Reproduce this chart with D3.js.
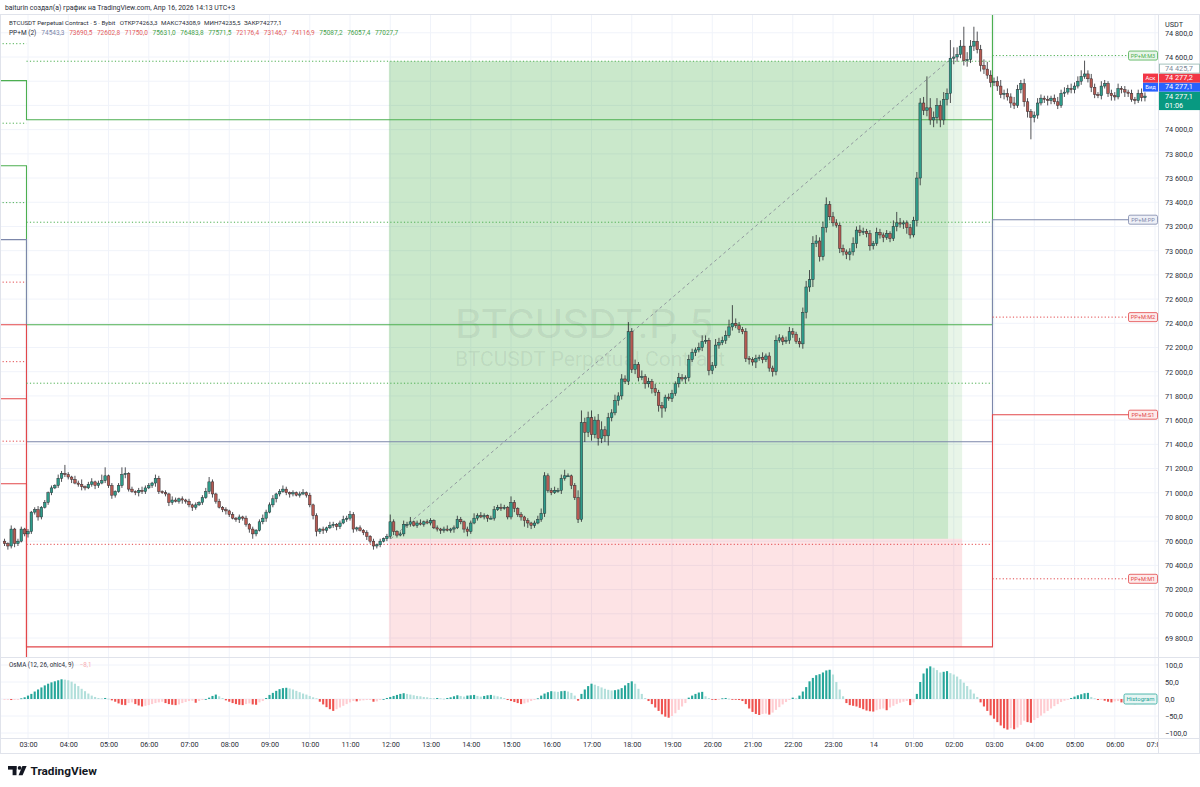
<!DOCTYPE html>
<html><head><meta charset="utf-8">
<script src="https://cdn.jsdelivr.net/npm/d3@7/dist/d3.min.js"></script>
<style>body{margin:0;background:#fff;}svg{display:block;font-family:Roboto,"Noto Sans",sans-serif;}</style>
</head><body><svg id="c" width="1200" height="787"></svg>
<script>
// ---------- DATA ----------
// 5-minute candles, bar 0 = 02:25 (13th), bar 7 = 03:00, 12 bars per hour
const firstOpen = 70600;
const closes = [
70580,70560,70700,70580,70600,70700,70660,
70680,70840,70860,70800,70880,70920,71000,71040,71060,71120,71160,71150,
71130,71110,71080,71070,71050,71040,71070,71090,71060,71080,71100,71140,
71060,70980,71010,71060,71150,71160,71030,71010,71000,71020,71010,71040,
71060,71080,71120,71010,71000,70990,70920,70940,70930,70950,70940,70930,
70900,70880,70900,70920,70960,71010,71090,70990,70930,70880,70860,70850,
70820,70790,70780,70800,70790,70740,70700,70660,70690,70760,70790,70840,
70900,70950,70990,71010,71030,71000,70990,71000,70980,70990,71000,70980,
70900,70810,70680,70700,70690,70710,70730,70740,70720,70750,70780,70790,
70820,70700,70710,70690,70670,70640,70600,70560,70570,70600,70620,70640,
70760,70680,70650,70660,70740,70740,70760,70730,70750,70740,70760,70750,
70770,70710,70700,70690,70700,70690,70700,70710,70780,70760,70700,70680,
70750,70790,70810,70800,70810,70790,70790,70860,70880,70870,70880,70800,
70920,70870,70820,70800,70770,70750,70730,70750,70780,70830,71140,71020,
71000,71020,71020,71120,71140,71140,71060,70960,70780,71580,71500,71620,
71480,71600,71450,71520,71470,71620,71660,71760,71800,71940,71920,72330,
72020,72060,71950,71960,71900,71920,71860,71830,71720,71700,71790,71780,
71820,71900,71950,71940,71950,72100,72160,72180,72200,72250,72260,72010,
72050,72220,72240,72260,72300,72370,72400,72380,72350,72330,72110,72100,
72080,72110,72120,72100,72130,72030,72000,72260,72280,72250,72260,72330,
72310,72250,72230,72490,72700,72760,73060,73080,72950,73190,73380,73280,
73230,73210,73020,72990,72970,72990,73060,73170,73150,73160,73140,73040,
73060,73150,73130,73110,73140,73100,73200,73230,73220,73230,73190,73130,
73250,73600,74220,74160,74180,74080,74100,74200,74080,74250,74300,74590,
74600,74620,74690,74570,74580,74690,74730,74660,74530,74500,74450,74390,
74400,74360,74290,74300,74270,74220,74200,74330,74380,74230,74150,74100,
74120,74220,74260,74250,74240,74260,74230,74200,74300,74310,74340,74330,
74360,74400,74440,74460,74420,74350,74290,74280,74360,74380,74300,74280,
74270,74340,74330,74310,74300,74250,74240,74300,74263.3,74277.1];
// wick lengths beyond the body, in units of 10 USDT
const wickUp = [
2,1,3,1,2,2,1,
2,1,2,3,1,2,1,2,1,3,2,7,
2,1,3,2,4,1,2,3,1,2,5,7,
1,2,1,2,6,5,1,2,1,2,3,2,
2,1,3,2,1,2,1,3,2,1,2,1,
2,1,2,1,2,3,4,2,1,2,1,2,
1,2,1,2,1,2,1,2,1,2,3,2,
2,3,1,2,3,2,1,2,1,2,3,1,
2,1,2,1,2,1,3,2,1,2,3,2,
3,2,1,2,1,2,1,2,1,2,1,2,
6,2,1,2,3,2,4,1,2,3,1,2,
2,1,2,1,2,3,1,2,3,2,1,2,
2,4,2,3,2,1,2,3,2,3,2,1,
5,2,1,2,1,2,1,2,3,4,3,2,
2,3,2,3,5,2,1,2,6,10,4,5,
6,3,5,7,3,4,3,5,3,4,3,8,
3,4,2,5,2,3,2,4,2,3,2,3,
3,2,4,3,2,4,3,2,4,5,4,2,
3,5,4,3,4,6,15,4,3,2,3,2,
2,3,2,4,2,3,2,4,3,2,3,4,
3,2,3,4,5,8,6,5,3,5,6,3,
4,3,2,3,2,3,5,3,4,3,2,3,
2,4,3,2,3,2,5,9,4,2,2,3,
3,5,4,5,26,8,5,6,4,6,4,15,
8,6,5,16,6,5,12,8,4,5,6,4,
3,4,5,3,4,3,5,4,3,4,3,2,
3,4,3,2,3,2,3,4,3,4,3,4,
3,4,5,11,3,4,3,2,4,3,2,3,
3,4,2,3,2,3,2,3,4,3];
const wickDn = [
2,3,2,3,2,1,2,
3,2,2,3,2,1,2,2,1,2,3,2,
2,3,1,2,3,2,1,2,3,2,1,2,
2,3,2,1,2,3,2,1,2,3,2,2,
1,2,3,2,1,2,3,2,1,2,3,2,
2,3,2,1,2,1,2,3,2,1,2,3,
2,1,2,3,2,2,3,4,2,1,2,3,
1,2,3,2,1,2,3,2,1,2,1,2,
2,3,4,2,3,2,1,2,3,2,1,2,
2,3,2,1,2,3,2,3,2,2,1,2,
2,3,2,1,2,3,2,1,2,1,2,1,
2,1,2,3,2,1,2,3,1,2,3,4,
2,1,2,1,2,3,1,2,1,2,1,2,
2,3,2,3,5,4,3,2,1,2,3,2,
2,1,2,3,2,1,3,2,3,2,8,4,
5,3,6,4,5,8,3,2,4,3,2,3,
3,4,3,2,4,3,4,3,5,8,3,2,
3,2,3,2,4,3,2,3,2,3,2,4,
3,2,3,2,3,2,3,2,3,2,3,4,
3,5,2,3,2,3,4,3,2,3,2,3,
3,2,3,4,5,4,6,3,4,3,4,3,
3,2,4,3,4,5,3,4,3,2,3,4,
3,2,3,4,2,3,2,4,3,4,5,3,
2,5,6,4,5,4,6,5,6,4,5,8,
5,4,3,4,5,3,4,3,5,4,3,4,
3,4,3,4,3,4,3,2,3,4,5,18,
4,3,2,3,4,3,2,3,2,3,2,3,
3,2,3,2,3,4,3,2,3,2,3,4,
3,2,3,4,3,2,3,2,3,3];
// OsMA histogram (12, 26, ohlc4, 9)
const osma = [
-2,-2,-3,-2,-1,2,5,
10,15,22,28,34,40,45,49,52,55,58,57,
55,51,45,38,30,23,16,10,6,3,2,3,
1,-4,-8,-13,-17,-18,-12,-10,-15,-19,-22,-20,
-18,-15,-12,-10,-8,-12,-15,-17,-18,-16,-12,-9,
-6,-5,-11,-6,-3,0,4,9,13,8,3,-4,
-8,-12,-15,-17,-18,-15,-13,-16,-17,-10,-6,3,
12,18,24,29,32,33,31,28,24,20,16,13,
9,5,2,-8,-16,-24,-30,-35,-30,-25,-20,-15,
-10,-6,-7,-5,-4,-3,-3,-8,-7,-3,0,3,
6,9,12,15,17,15,13,11,9,8,6,5,
3,2,3,2,1,3,5,8,11,9,7,10,
11,12,9,7,9,11,12,10,8,6,3,-3,
-6,-9,-12,-15,-13,-10,-6,-3,2,10,16,20,
23,22,21,23,24,22,18,10,-5,15,28,38,
45,42,38,34,30,27,25,26,28,32,40,47,
52,45,30,15,3,-6,-15,-25,-35,-45,-52,-55,
-50,-42,-32,-22,-12,4,10,15,19,21,8,3,
-1,-3,-1,2,3,1,-1,-2,-3,-6,-15,-28,
-38,-44,-47,-44,-43,-46,-40,-32,-24,-16,-9,-3,
4,2,10,22,35,52,62,70,73,78,84,86,
72,50,28,8,-12,-18,-20,-22,-26,-30,-34,-36,
-37,-33,-30,-28,-33,-25,-20,-15,-11,-8,-6,-18,
-10,15,50,75,90,96,92,85,78,80,82,76,
72,66,58,48,38,28,16,6,-10,-22,-35,-48,
-58,-68,-78,-86,-90,-86,-89,-84,-76,-64,-68,-70,
-62,-56,-49,-42,-35,-28,-21,-15,-9,-5,-2,3,
7,11,14,17,18,6,2,-3,-2,-5,-8,-10,
-7,-6,-10,-12,-11,-13,-15,-12,-10,-8.1];

const timeLabels = ["03:00","04:00","05:00","06:00","07:00","08:00","09:00","10:00","11:00","12:00","13:00","14:00","15:00","16:00","17:00","18:00","19:00","20:00","21:00","22:00","23:00","14","01:00","02:00","03:00","04:00","05:00","06:00","07:00"];
const priceTicks = [69800,70000,70200,70400,70600,70800,71000,71200,71400,71600,71800,72000,72200,72400,72600,72800,73000,73200,73400,73600,73800,74000,74200,74400,74600,74800];
const osmaTicks = [100,50,0,-50,-100];

// Pivot Points + midpoints, three daily periods: [12th, 13th, 14th]
const periodBounds = [-1.6, 6.55, 294.55, 340.6]; // bar-index boundaries
const pivR3 = [75016, 75049, 78900];
const pivR2 = [74405, 74082, 77579];
const pivR1 = [73702, 72388, 75968];
const pivPP = [73091, 71421, 73256];
const pivS1 = [72388, 69727, 71645];
const pivS2 = [71777, 68760, 68933];
const pivS3 = [71074, 66100, 66320];
const pivM5 = [74710, 74565, 78240];
const pivM4 = [74053, 73235, 76774];
const pivM3 = [73397, 71905, 74612];
const pivM2 = [72740, 70574, 72451];
const pivM1 = [72083, 69244, 70289];
const pivM0 = [71426, 67430, 67627];

// Long position tool
const posStartBar = 114.6, posHitBar = 281.3, posEndBar = 285.5;
const posEntry = 70620, posTarget = 74565, posStop = 69727;

const askPrice = 74277.2, bidPrice = 74277.1, markerPrice = 74425.7, countdown = "01:06";
const legendPP = [["74543,3","pp"],["73690,5","r"],["72602,8","r"],["71750,0","r"],["75631,0","g"],["76483,8","g"],["77571,5","g"],["72176,4","r"],["73146,7","r"],["74116,9","r"],["75087,2","g"],["76057,4","g"],["77027,7","g"]];

// ---------- LAYOUT ----------
const paneR = 1158, mainT = 14, mainB = 657, oscB = 738, axisB = 753;
const C = {grid:"#f0f3fa", border:"#e0e3eb", text:"#2a2e39", green:"#4caf50", pp:"#7c87aa", red:"#e2474a",
  up:"#2e9c8a", down:"#b65a52", outline:"#24262b", hUp:"#26a69a", hUpL:"#b2dfdb", hDn:"#ef5350", hDnL:"#ffcdd2"};
const FONT = 'Roboto,"Noto Sans",sans-serif';
const svg = d3.select("#c");
const x = d3.scaleLinear().domain([7, 343]).range([28, 1155]);
const y = d3.scaleLinear().domain([69800, 74600]).range([638, 57]);
const yo = d3.scaleLinear().domain([-100, 100]).range([733, 665]);
const fmt = d3.formatLocale({decimal:",", thousands:" ", grouping:[3], currency:["",""], minus:"\u2212"}).format(",.1f");

const defs = svg.append("defs");
defs.append("clipPath").attr("id","cm").append("rect").attr("x",0).attr("y",mainT).attr("width",paneR).attr("height",mainB-mainT);
defs.append("clipPath").attr("id","co").append("rect").attr("x",0).attr("y",mainB).attr("width",paneR).attr("height",oscB-mainB);
defs.append("clipPath").attr("id","ct").append("rect").attr("x",0).attr("y",oscB).attr("width",paneR).attr("height",axisB-oscB);

// grid
const hourBars = timeLabels.map((t,h)=>7+12*h);
const grid = svg.append("g");
grid.selectAll("line.v").data(hourBars).join("line").attr("x1",d=>x(d)).attr("x2",d=>x(d)).attr("y1",mainT).attr("y2",oscB).attr("stroke",C.grid);
grid.selectAll("line.h").data(priceTicks).join("line").attr("clip-path","url(#cm)").attr("x1",0).attr("x2",paneR).attr("y1",d=>y(d)).attr("y2",d=>y(d)).attr("stroke",C.grid);
grid.selectAll("line.o").data(osmaTicks).join("line").attr("x1",0).attr("x2",paneR).attr("y1",d=>yo(d)).attr("y2",d=>yo(d)).attr("stroke",C.grid);

// main pane content
const main = svg.append("g").attr("clip-path","url(#cm)");
// position tool
main.append("rect").attr("x",x(posStartBar)).attr("width",x(posEndBar)-x(posStartBar)).attr("y",y(posTarget)).attr("height",y(posEntry)-y(posTarget)).attr("fill","rgba(76,175,80,0.13)");
main.append("rect").attr("x",x(posStartBar)).attr("width",x(posHitBar)-x(posStartBar)).attr("y",y(posTarget)).attr("height",y(posEntry)-y(posTarget)).attr("fill","rgba(76,175,80,0.19)");
main.append("rect").attr("x",x(posStartBar)).attr("width",x(posEndBar)-x(posStartBar)).attr("y",y(posEntry)).attr("height",y(posStop)-y(posEntry)).attr("fill","rgba(242,54,69,0.14)");
// watermark
main.append("text").attr("x",455).attr("y",338).attr("font-size",41).attr("textLength",258).attr("lengthAdjust","spacingAndGlyphs").attr("fill","rgba(19,23,34,0.08)").attr("font-family",FONT).text("BTCUSDT.P, 5");
main.append("text").attr("x",455).attr("y",366).attr("font-size",21).attr("fill","rgba(19,23,34,0.08)").attr("font-family",FONT).text("BTCUSDT Perpetual Contract");

// pivot lines
function stepPath(vals){
  let p = ""; let prevY = null;
  for(let k=0;k<3;k++){
    const yy = y(vals[k]);
    const x0 = x(periodBounds[k]), x1 = x(periodBounds[k+1]);
    if(prevY===null) p += `M${x0},${yy}`; else p += `V${yy}`;
    p += `H${x1}`; prevY = yy;
  }
  return p;
}
function segPath(vals){
  let p = "";
  for(let k=0;k<3;k++){ const yy=y(vals[k]); p += `M${x(periodBounds[k])},${yy}H${x(periodBounds[k+1])}`; }
  return p;
}
const pg = main.append("g").attr("fill","none");
[[pivR3,C.green],[pivR2,C.green],[pivR1,C.green],[pivPP,C.pp],[pivS1,C.red],[pivS2,C.red],[pivS3,C.red]].forEach(([v,col])=>{
  pg.append("path").attr("d",stepPath(v)).attr("stroke",col).attr("stroke-width",1.1);
});
[[pivM5,C.green],[pivM4,C.green],[pivM3,C.green],[pivM2,C.red],[pivM1,C.red],[pivM0,C.red]].forEach(([v,col])=>{
  pg.append("path").attr("d",segPath(v)).attr("stroke",col).attr("stroke-width",1).attr("stroke-dasharray","1.2,2.2");
});
// dashed diagonal of the position tool
main.append("line").attr("x1",x(posStartBar)+2).attr("y1",y(posEntry)).attr("x2",x(posHitBar)).attr("y2",y(posTarget)).attr("stroke","#8a8f99").attr("stroke-width",0.9).attr("stroke-dasharray","3,3");

// candles
const bars = closes.map((c,i)=>{const o = i?closes[i-1]:firstOpen; return {i,o,c,h:Math.max(o,c)+wickUp[i]*10,l:Math.min(o,c)-wickDn[i]*10};});
const cg = main.append("g");
cg.selectAll("line").data(bars).join("line").attr("x1",d=>x(d.i)).attr("x2",d=>x(d.i)).attr("y1",d=>y(d.h)).attr("y2",d=>y(d.l)).attr("stroke",C.outline).attr("stroke-width",0.8);
cg.selectAll("rect").data(bars).join("rect")
  .attr("x",d=>x(d.i)-1.3).attr("width",2.6)
  .attr("y",d=>y(Math.max(d.o,d.c))).attr("height",d=>Math.max(1,Math.abs(y(d.o)-y(d.c))))
  .attr("fill",d=>d.c>=d.o?C.up:C.down).attr("stroke",C.outline).attr("stroke-width",0.45);

// pivot labels (14th)
const pivLabels = [["PP+M:M3",pivM3[2],C.green,"#e8f5e9"],["PP+M:PP",pivPP[2],C.pp,"#eef0f7"],["PP+M:M2",pivM2[2],C.red,"#fdeaea"],["PP+M:S1",pivS1[2],C.red,"#fdeaea"],["PP+M:M1",pivM1[2],C.red,"#fdeaea"]];
const lg = svg.append("g");
pivLabels.forEach(([t,v,col,bg])=>{
  const yy=y(v);
  lg.append("rect").attr("x",1128.5).attr("y",yy-4.5).attr("width",29).attr("height",9).attr("rx",1.5).attr("fill",bg).attr("stroke",col).attr("stroke-width",0.8);
  lg.append("text").attr("x",1143).attr("y",yy+2).attr("text-anchor","middle").attr("font-size",5.6).attr("fill",col).attr("font-family",FONT).text(t);
});

// oscillator
const og = svg.append("g").attr("clip-path","url(#co)");
og.selectAll("rect").data(osma).join("rect")
  .attr("x",(d,i)=>x(i)-1.05).attr("width",2.1)
  .attr("y",d=>Math.min(yo(0),yo(d))).attr("height",d=>Math.max(0.8,Math.abs(yo(d)-yo(0))))
  .attr("fill",(d,i)=>{const p=i?osma[i-1]:d; return d>=0?(d>=p?C.hUp:C.hUpL):(d<p?C.hDn:C.hDnL);});
svg.append("rect").attr("x",1124).attr("y",yo(0)-5).attr("width",33).attr("height",10).attr("rx",1.5).attr("fill","#e6f5f3").attr("stroke",C.hUp).attr("stroke-width",0.8);
svg.append("text").attr("x",1140.5).attr("y",yo(0)+2.2).attr("text-anchor","middle").attr("font-size",6).attr("fill",C.hUp).attr("font-family",FONT).text("Histogram");
const ol = svg.append("text").attr("x",9).attr("y",667).attr("font-size",6.3).attr("font-family",FONT).attr("fill",C.text);
ol.append("tspan").text("OsMA (12, 26, ohlc4, 9)");
ol.append("tspan").attr("dx",6).attr("fill","#f7a9b0").text(fmt(osma[osma.length-1]));

// borders
svg.append("line").attr("x1",paneR+0.5).attr("x2",paneR+0.5).attr("y1",mainT).attr("y2",axisB).attr("stroke",C.border);
svg.append("line").attr("x1",0).attr("x2",1200).attr("y1",mainB+0.5).attr("y2",mainB+0.5).attr("stroke",C.border);
svg.append("line").attr("x1",0).attr("x2",1200).attr("y1",oscB+0.5).attr("y2",oscB+0.5).attr("stroke",C.border);
svg.append("rect").attr("x",0.5).attr("y",mainT+0.5).attr("width",1199).attr("height",axisB-mainT).attr("fill","none").attr("stroke",C.border);

// geometry of the stacked price labels (computed first so covered ticks are skipped)
const lastClose = closes[closes.length-1];
const lh = 9;
const curTop = y(lastClose) - 4.5, curH = 18.5;
const stackTops = [curTop - lh, curTop - 2*lh];         // bid, ask
const markerTop = curTop - 3*lh - 0.5;
const coveredLo = markerTop - 3, coveredHi = curTop + curH + 3;
const visibleTicks = priceTicks.filter(p => { const yy=y(p); return (yy < coveredLo || yy > coveredHi) && yy > 30; });

// price axis
const ay = svg.append("g").attr("transform",`translate(${paneR},0)`)
  .call(d3.axisRight(y).tickValues(visibleTicks).tickSize(0).tickPadding(7).tickFormat(fmt));
ay.select(".domain").remove();
ay.attr("font-family",FONT).attr("font-size",7.3);
ay.selectAll("text").attr("fill",C.text);
const ao = svg.append("g").attr("transform",`translate(${paneR},0)`)
  .call(d3.axisRight(yo).tickValues(osmaTicks).tickSize(0).tickPadding(7).tickFormat(fmt));
ao.select(".domain").remove();
ao.attr("font-family",FONT).attr("font-size",7.3);
ao.selectAll("text").attr("fill",C.text);
svg.append("text").attr("x",paneR+7).attr("y",27).attr("font-size",7.3).attr("fill",C.text).attr("font-family",FONT).text("USDT");

// time axis
const at = svg.append("g").attr("clip-path","url(#ct)").append("g").attr("transform",`translate(0,${oscB})`)
  .call(d3.axisBottom(x).tickValues(hourBars).tickSize(0).tickPadding(4).tickFormat((d,i)=>timeLabels[i]));
at.select(".domain").remove();
at.attr("font-family",FONT).attr("font-size",7.3);
at.selectAll("text").attr("fill",C.text);

// price labels on the axis
const cur = svg.append("g");
cur.append("rect").attr("x",paneR+1).attr("y",curTop).attr("width",41).attr("height",curH).attr("fill","#089981");
cur.append("text").attr("x",paneR+7).attr("y",curTop+7).attr("font-size",7.3).attr("fill","#fff").attr("font-family",FONT).text(fmt(lastClose));
cur.append("text").attr("x",paneR+7).attr("y",curTop+16).attr("font-size",7.3).attr("fill","#fff").attr("font-family",FONT).text(countdown);
[[bidPrice,"#2962ff","Бид"],[askPrice,"#f23645","Аск"]].forEach(([p,col,tag],j)=>{
  const t = stackTops[j];
  cur.append("rect").attr("x",paneR+1).attr("y",t).attr("width",41).attr("height",lh).attr("fill",col);
  cur.append("text").attr("x",paneR+7).attr("y",t+6.8).attr("font-size",7.3).attr("fill","#fff").attr("font-family",FONT).text(fmt(p));
  cur.append("rect").attr("x",paneR-15).attr("y",t).attr("width",15).attr("height",lh).attr("fill",col);
  cur.append("text").attr("x",paneR-7.5).attr("y",t+6.5).attr("text-anchor","middle").attr("font-size",5.8).attr("fill","#fff").attr("font-family",FONT).text(tag);
});
cur.append("rect").attr("x",paneR+1.5).attr("y",markerTop).attr("width",40).attr("height",lh).attr("fill","#fff").attr("stroke","#8fb3ad").attr("stroke-width",0.8);
cur.append("text").attr("x",paneR+7).attr("y",markerTop+6.8).attr("font-size",7.3).attr("fill","#7d8a99").attr("font-family",FONT).text(fmt(markerPrice));

// header / legends
svg.append("text").attr("x",5).attr("y",10).attr("font-size",6.9).attr("fill",C.text).attr("font-family",FONT).text("baiturin создал(а) график на TradingView.com, Апр 16, 2026 14:13 UTC+3");
const l2 = svg.append("text").attr("x",9).attr("y",24.5).attr("font-size",6.2).attr("fill",C.text).attr("font-family",FONT);
l2.append("tspan").text("BTCUSDT Perpetual Contract · 5 · Bybit");
[["ОТКР","74263,3"],["МАКС","74308,9"],["МИН","74235,5"],["ЗАКР","74277,1"]].forEach(([k,v],j)=>{
  l2.append("tspan").attr("dx",j?3.5:4.5).text(k);
  l2.append("tspan").text(v);
});
const l3 = svg.append("text").attr("x",9).attr("y",34.5).attr("font-size",6.5).attr("fill",C.text).attr("font-family",FONT);
l3.append("tspan").text("PP+M (2)");
const lc = {pp:C.pp, r:"#e35d60", g:"#43a047"};
legendPP.forEach(([v,k],j)=>{ l3.append("tspan").attr("dx",j?4.6:5).attr("fill",lc[k]).text(v); });

// TradingView logo
const logo = svg.append("g").attr("fill","#131722");
logo.append("rect").attr("x",8).attr("y",766).attr("width",8.5).attr("height",3.6);
logo.append("rect").attr("x",12.6).attr("y",766).attr("width",3.9).attr("height",9.2);
logo.append("circle").attr("cx",19.6).attr("cy",767.9).attr("r",1.9);
logo.append("path").attr("d","M22.4,766 L26.6,766 L22.6,775.2 L18.6,775.2 Z");
logo.append("text").attr("x",30.5).attr("y",775).attr("font-size",11.8).attr("font-weight","bold").attr("font-family",FONT).text("TradingView");
</script></body></html>
